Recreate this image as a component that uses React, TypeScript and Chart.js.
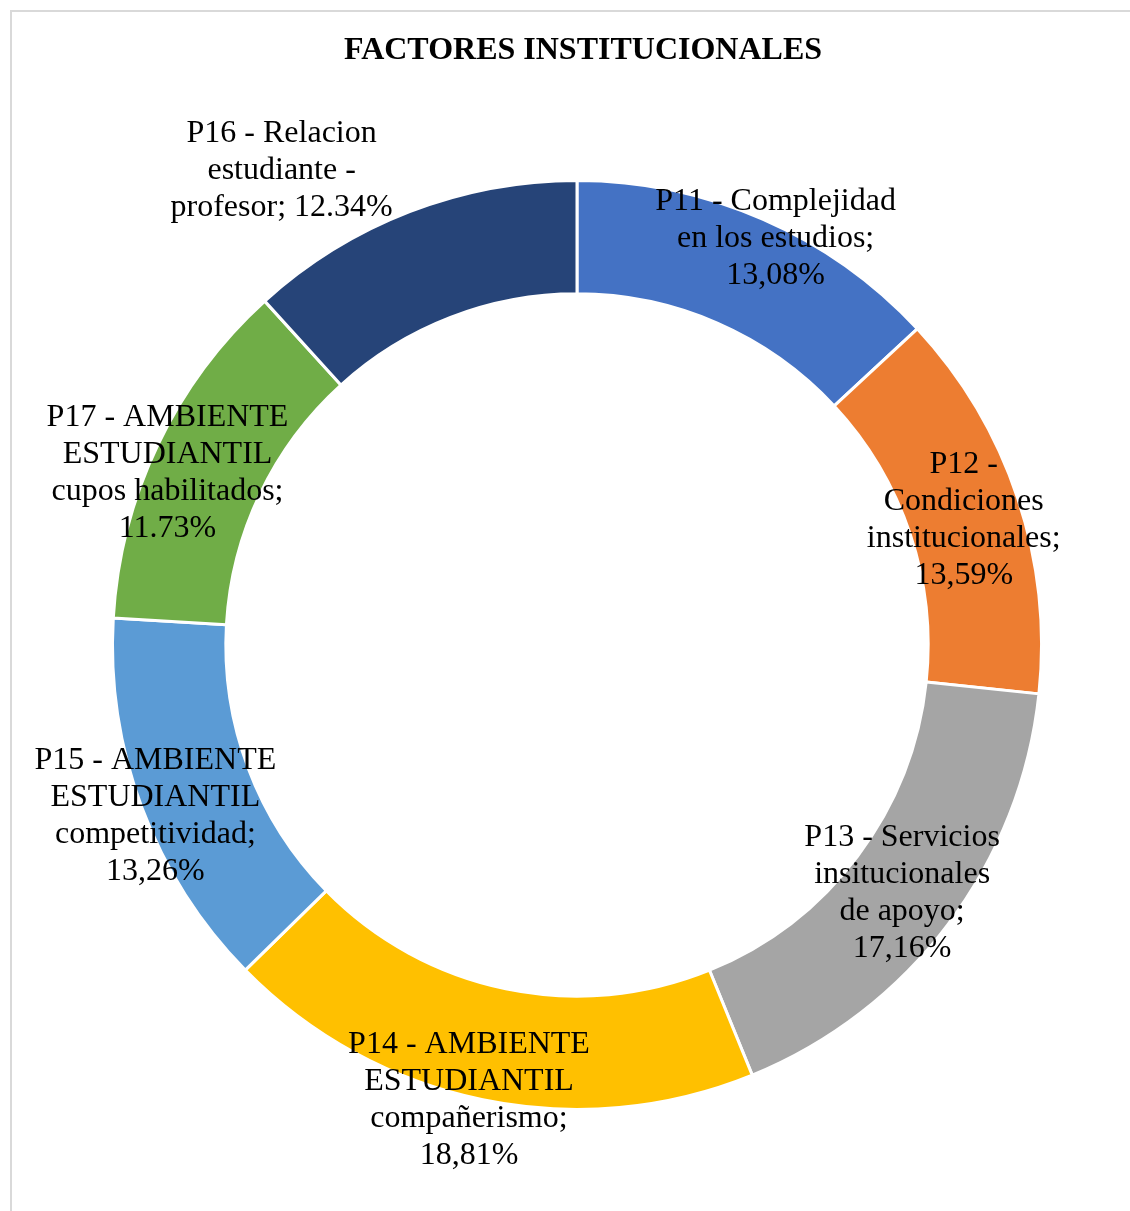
import React, { useEffect, useRef } from "react";
import { Chart, registerables } from "chart.js";

Chart.register(...registerables);

const chartTitle = "FACTORES INSTITUCIONALES";

const categories = [
  "P11 - Complejidad en los estudios",
  "P12 - Condiciones institucionales",
  "P13 - Servicios insitucionales de apoyo",
  "P14 - AMBIENTE ESTUDIANTIL compañerismo",
  "P15 - AMBIENTE ESTUDIANTIL competitividad",
  "P17 - AMBIENTE ESTUDIANTIL cupos habilitados",
  "P16 - Relacion estudiante - profesor",
];

// segment sizes as drawn in the picture
const values = [13.08, 13.59, 17.16, 18.81, 13.26, 12.34, 11.73];

// data-label texts exactly as printed on the chart (wrapped lines)
const labelLines = [
  ["P11 - Complejidad", "en los estudios;", "13,08%"],
  ["P12 -", "Condiciones", "institucionales;", "13,59%"],
  ["P13 - Servicios", "insitucionales", "de apoyo;", "17,16%"],
  ["P14 - AMBIENTE", "ESTUDIANTIL", "compañerismo;", "18,81%"],
  ["P15 - AMBIENTE", "ESTUDIANTIL", "competitividad;", "13,26%"],
  ["P17 - AMBIENTE", "ESTUDIANTIL", "cupos habilitados;", "11.73%"],
  ["P16 - Relacion", "estudiante -", "profesor; 12.34%"],
];

const colors = ["#4472C4", "#ED7D31", "#A5A5A5", "#FFC000", "#5B9BD5", "#70AD47", "#264478"];

// label placement (style): radius as fraction of outer radius, angle shift in degrees
const labelRadius = [0.977, 0.876, 0.878, 1.003, 0.978, 0.958, 1.206];
const labelAngleShift = [2.4, 0.3, 0.2, 1.7, -1.3, -2.5, -10.7];

const FONT = '"Liberation Serif", "Times New Roman", serif';

const labelPlugin = {
  id: "donutLabels",
  afterDatasetsDraw(chart: any) {
    const ctx = chart.ctx;
    const meta = chart.getDatasetMeta(0);
    ctx.save();
    ctx.fillStyle = "#000000";
    ctx.font = `32px ${FONT}`;
    ctx.textAlign = "center";
    ctx.textBaseline = "middle";
    const lh = 37;
    meta.data.forEach((arc: any, i: number) => {
      const p = arc.getProps(["x", "y", "startAngle", "endAngle", "outerRadius"], true);
      const mid = (p.startAngle + p.endAngle) / 2 + (labelAngleShift[i] * Math.PI) / 180;
      const r = p.outerRadius * labelRadius[i];
      const cx = p.x + Math.cos(mid) * r;
      const cy = p.y + Math.sin(mid) * r + 2;
      const lines = labelLines[i];
      const n = lines.length;
      lines.forEach((line, k) => {
        ctx.fillText(line, cx, cy + (k - (n - 1) / 2) * lh);
      });
    });
    ctx.restore();
  },
  afterDraw(chart: any) {
    const ctx = chart.ctx;
    ctx.save();
    ctx.fillStyle = "#000000";
    ctx.font = `bold 32px ${FONT}`;
    ctx.textAlign = "center";
    ctx.textBaseline = "middle";
    ctx.fillText(chartTitle, 583, 51);
    ctx.restore();
  },
};

export default function App() {
  const ref = useRef<HTMLCanvasElement | null>(null);

  useEffect(() => {
    if (!ref.current) return;
    const chart = new Chart(ref.current, {
      type: "doughnut",
      data: {
        labels: categories,
        datasets: [
          {
            data: values,
            backgroundColor: colors,
            borderColor: "#FFFFFF",
            borderWidth: 3,
          },
        ],
      },
      options: {
        responsive: false,
        animation: false,
        cutout: "75.6%",
        layout: { padding: { left: 111, right: 87, top: 179, bottom: 100 } },
        plugins: {
          legend: { display: false },
          title: { display: false },
          tooltip: { enabled: false },
        },
      },
      plugins: [labelPlugin],
    });
    return () => chart.destroy();
  }, []);

  return (
    <div style={{ position: "absolute", left: 0, top: 0, width: 1130, height: 1211, background: "#FFFFFF", overflow: "hidden" }}>
      <div
        style={{
          position: "absolute",
          left: 10,
          top: 10,
          width: 1120,
          height: 1201,
          borderTop: "2px solid #D9D9D9",
          borderLeft: "2px solid #D9D9D9",
          boxSizing: "border-box",
        }}
      />
      <canvas ref={ref} width={1130} height={1211} style={{ position: "absolute", left: 0, top: 0, width: 1130, height: 1211 }} />
    </div>
  );
}
